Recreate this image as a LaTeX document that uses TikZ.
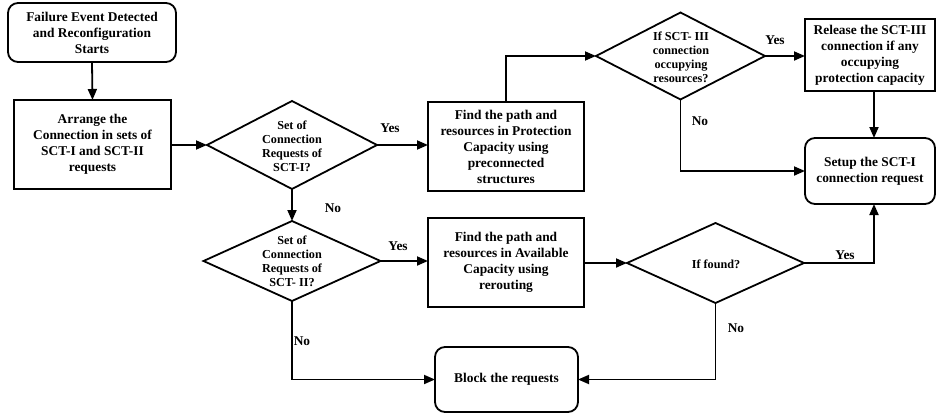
\documentclass[tikz,border=0pt]{standalone}
\usepackage{fontspec}
\setmainfont{Liberation Serif}
\usetikzlibrary{shapes.geometric,arrows.meta}
\begin{document}
\begin{tikzpicture}[x=1pt,y=-1pt,
  every node/.style={inner sep=0pt, outer sep=0pt},
  boxtext/.style={font=\bfseries\fontsize{13.4}{16}\selectfont, align=center},
  dtext/.style={font=\bfseries\fontsize{12.2}{14}\selectfont, align=center},
  lbl/.style={font=\bfseries\fontsize{13.4}{16}\selectfont},
  procbox/.style={draw, line width=1.8pt, rectangle, boxtext},
  roundbox/.style={draw, line width=1.8pt, rectangle, rounded corners=10pt, boxtext},
  dia/.style={draw, line width=1.8pt, diamond},
  conn/.style={line width=1.8pt, -{Triangle[length=11pt,width=9pt]}}
]
\useasboundingbox (0,0) rectangle (938,415);

% boxes
\node[roundbox, minimum width=168pt, minimum height=59pt] (A) at (92,32.5)
  {Failure Event Detected\\and Reconfiguration\\Starts};
\node[procbox, minimum width=157pt, minimum height=89pt] (B) at (92.5,144.5)
  {Arrange the\\Connection in sets of\\SCT-I and SCT-II\\requests};
\node[procbox, minimum width=156pt, minimum height=89pt] (P) at (506,146.5)
  {Find the path and\\resources in Protection\\Capacity using\\preconnected\\structures};
\node[procbox, minimum width=130pt, minimum height=72pt] (R) at (870,55)
  {Release the SCT-III\\connection if any\\occupying\\protection capacity};
\node[roundbox, minimum width=130pt, minimum height=66pt] (S) at (870,171)
  {Setup the SCT-I\\connection request};
\node[procbox, minimum width=156pt, minimum height=89pt] (Q) at (506,262.5)
  {Find the path and\\resources in Available\\Capacity using\\rerouting};
\node[roundbox, minimum width=143pt, minimum height=65pt] (K) at (506.5,379.5)
  {Block the requests};

% diamonds
\node[dia, minimum width=170pt, minimum height=88pt] (D1) at (292,145) {};
\node[dtext] (D1t) at (292,146) {Set of\\Connection\\Requests of\\SCT-I?};
\node[dia, minimum width=177pt, minimum height=80pt] (D2) at (292,261) {};
\node[dtext] (D2t) at (292,261) {Set of\\Connection\\Requests of\\SCT- II?};
\node[dia, minimum width=169pt, minimum height=87pt] (D3) at (680.5,56) {};
\node[dtext] (D3t) at (681,57) {If SCT- III\\connection\\occupying\\resources?};
\node[dia, minimum width=177pt, minimum height=80pt] (D4) at (715.5,263) {};
\node[dtext] (D4t) at (716,264) {If found?};

% connectors
\coordinate (sx) at (874,0);
\draw[conn] (A.south) -- (B.north);
\draw[conn] (B.east |- D1.west) -- (D1.west);
\draw[conn] (D1.east) -- (D1.east -| P.west);
\draw[conn] (D1.south) -- (D2.north);
\draw[conn] (P.north) |- (D3.west);
\draw[conn] (D3.east) -- (D3.east -| R.west);
\draw[conn] (R.south -| sx) -- (S.north -| sx);
\draw[conn] (D3.south) |- (S.west);
\draw[conn] (D2.east) -- (D2.east -| Q.west);
\draw[conn] (D2.south) |- (K.west);
\draw[conn] (Q.east |- D4.west) -- (D4.west);
\draw[conn] (D4.east) -| (S.south -| sx);
\draw[conn] (D4.south) |- (K.east);

% labels
\node[lbl] (y1) at (390,128) {Yes};
\node[lbl] (n1) at (333,208) {No};
\node[lbl] (y2) at (398,246) {Yes};
\node[lbl] (n2) at (302,341) {No};
\node[lbl] (y3) at (775,40) {Yes};
\node[lbl] (n3) at (700,121) {No};
\node[lbl] (y4) at (845,255) {Yes};
\node[lbl] (n4) at (736,328) {No};
\end{tikzpicture}
\end{document}
